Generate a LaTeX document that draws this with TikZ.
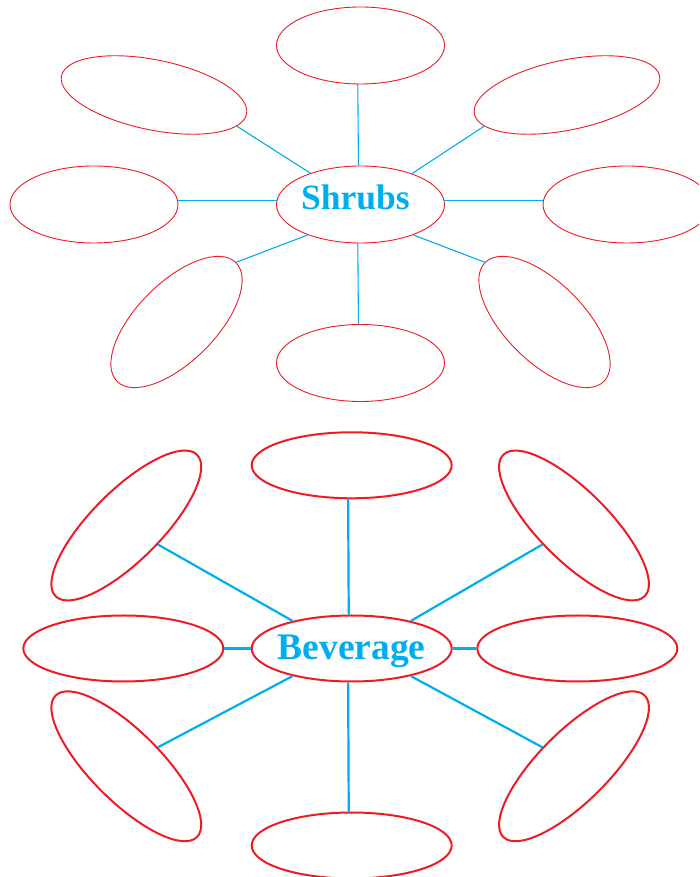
\documentclass[tikz,border=0pt]{standalone}
\usepackage{fontspec}
\setmainfont{Liberation Serif}
\usetikzlibrary{shapes.geometric}
\definecolor{ovred}{RGB}{237,28,36}
\definecolor{lnblue}{RGB}{0,174,239}
\begin{document}
\begin{tikzpicture}[x=1pt,y=1pt,
  thinov/.style={ellipse,draw=ovred,line width=0.9pt,inner sep=0pt,minimum width=168pt,minimum height=77pt},
  tiltov/.style={ellipse,draw=ovred,line width=0.9pt,inner sep=0pt,minimum width=189pt,minimum height=70pt},
  tiltovb/.style={ellipse,draw=ovred,line width=0.9pt,inner sep=0pt,minimum width=168pt,minimum height=79pt},
  thickov/.style={ellipse,draw=ovred,line width=2pt,inner sep=0pt,minimum width=200pt,minimum height=66pt},
  thicktilt/.style={ellipse,draw=ovred,line width=2pt,inner sep=0pt,minimum width=200pt,minimum height=70pt},
  thinln/.style={draw=lnblue,line width=1.1pt},
  thickln/.style={draw=lnblue,line width=2.2pt},
  lbl/.style={text=lnblue,anchor=base,inner sep=0pt}]
\clip (0,0) rectangle (699,877);
% ---------- top diagram ----------
\node[thinov] (c1) at (360.5,672.5) {};
\node[lbl,font=\fontsize{35.5}{36}\selectfont\bfseries] (s1) at ([xshift=-5pt,yshift=-4.8pt]c1.center) {Shrubs};
\node[thinov] (t1) at (360.5,831.5) {};
\node[thinov] (b1) at (360.5,514) {};
\node[thinov] (l1) at (94,672.5) {};
\node[thinov] (r1) at (627,672.5) {};
\node[tiltov,rotate=-11.65] (tl1) at (154,782) {};
\node[tiltov,rotate=11.65] (tr1) at (567,782) {};
\node[tiltovb,rotate=45] (bl1) at (176.5,555) {};
\node[tiltovb,rotate=-45] (br1) at (544.5,555) {};
\draw[thinln] (c1.93.7) -- (t1.266.3);
\draw[thinln] (c1.266.3) -- (b1.93.7);
\draw[thinln] (c1.177) -- (l1.3);
\draw[thinln] (c1.3) -- (r1.177);
\draw[thinln] (c1.148.5) -- (tl1.-9.7);
\draw[thinln] (c1.31.5) -- (tr1.189.7);
\draw[thinln] (c1.210.4) -- (bl1.east);
\draw[thinln] (c1.-30.4) -- (br1.west);
% ---------- bottom diagram ----------
\node[thickov] (c2) at (351.7,228.5) {};
\node[lbl,font=\fontsize{37.5}{38}\selectfont\bfseries] (s2) at ([yshift=-11.5pt]c2.center) {Beverage};
\node[thickov] (t2) at (351.7,411.7) {};
\node[thickov] (b2) at (351.7,31.5) {};
\node[thickov] (l2) at (123.3,228.5) {};
\node[thickov] (r2) at (577.3,228.5) {};
\node[thicktilt,rotate=45] (tl2) at (126.3,351.5) {};
\node[thicktilt,rotate=-45] (tr2) at (574,351.5) {};
\node[thicktilt,rotate=-45] (bl2) at (126.3,110.7) {};
\node[thicktilt,rotate=45] (br2) at (574,110.7) {};
\draw[thickln] (c2.95.9) -- (t2.264.1);
\draw[thickln] (c2.264.1) -- (b2.95.9);
\draw[thickln] (c2.west) -- (l2.east);
\draw[thickln] (c2.east) -- (r2.west);
\draw[thickln] (c2.155) -- (tl2.-76);
\draw[thickln] (c2.25) -- (tr2.256);
\draw[thickln] (c2.205) -- (bl2.76);
\draw[thickln] (c2.-25) -- (br2.104);
\end{tikzpicture}
\end{document}
